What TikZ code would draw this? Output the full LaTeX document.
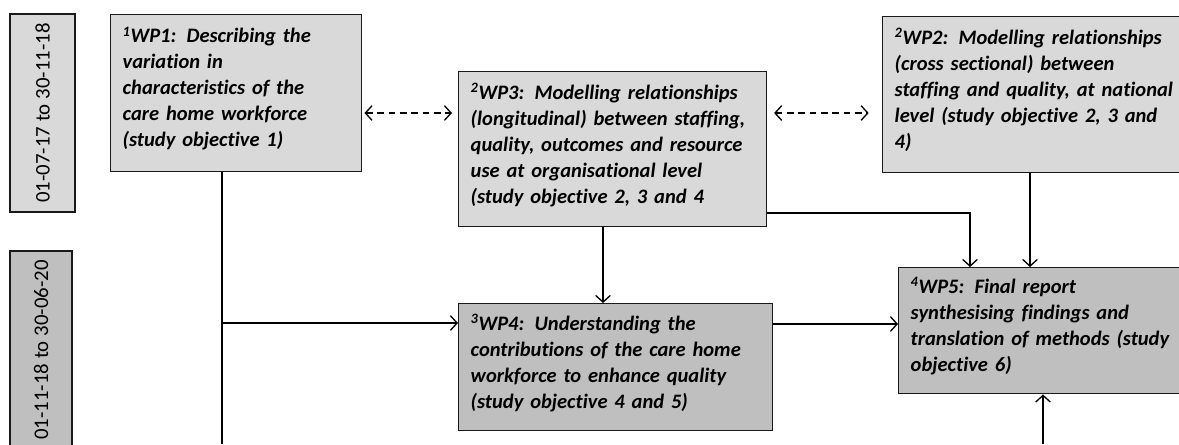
\documentclass[tikz,border=0pt]{standalone}
\usepackage{fontspec}
\setmainfont{Carlito}[Ligatures=CommonOff]
\usetikzlibrary{arrows.meta}
\definecolor{lightbox}{HTML}{D9D9D9}
\definecolor{darkbox}{HTML}{BFBFBF}
\definecolor{boxline}{HTML}{1A1A1A}

\begin{document}
\begin{tikzpicture}[x=0.75pt, y=-0.75pt,
	wp/.style={draw=boxline, line width=1.1pt, anchor=north west, align=left, inner xsep=9pt,
		font=\fontsize{15.4}{19.5}\selectfont\bfseries\itshape,
		execute at end node={\endgraf\vspace{7pt}}},
	period/.style={draw=boxline, line width=1.1pt, rotate=90, inner sep=0pt,
		font=\fontsize{15.6}{19.5}\selectfont},
	link/.style={line width=1pt, -{Straight Barb[length=5pt, width=11pt]}},
	pair/.style={line width=1pt, dash pattern=on 5pt off 3.5pt,
		{Straight Barb[length=5pt, width=11pt]}-{Straight Barb[length=5pt, width=11pt]}}]
		\useasboundingbox (0,0) rectangle (1179,444);
		\clip (0,0) rectangle (1179,444);
		
		% time periods
		\node[period, fill=lightbox, minimum width=148.5pt, minimum height=48.75pt] (p1) at (42.5,113) {01-07-17 to 30-11-18};
		\node[period, fill=darkbox, minimum width=148.5pt, minimum height=46.5pt] (p2) at (41,350) {01-11-18 to 30-06-20};
		
		% work packages
		\node[wp, fill=lightbox, minimum width=188.25pt, minimum height=117.75pt, text width=170.25pt] (wp1) at (110,14) {\textsuperscript{1}WP1: Describing the\\ variation in\\ characteristics of the\\ care home workforce\\ (study objective 1)};
		\node[wp, fill=lightbox, minimum width=231pt, minimum height=116.25pt, text width=213pt] (wp3) at (458,71) {\textsuperscript{2}WP3: Modelling relationships\\ (longitudinal) between staffing,\\ quality, outcomes and resource\\ use at organisational level\\ (study objective 2, 3 and 4};
		\node[wp, fill=lightbox, minimum width=234.75pt, minimum height=117pt, text width=216.75pt] (wp2) at (882,16) {\textsuperscript{2}WP2: Modelling relationships\\ (cross sectional) between\\ staffing and quality, at national\\ level (study objective 2, 3 and\\ 4)};
		\node[wp, fill=darkbox, minimum width=235.5pt, minimum height=95.25pt, text width=217.5pt] (wp4) at (458,303) {\textsuperscript{3}WP4: Understanding the\\ contributions of the care home\\ workforce to enhance quality\\ (study objective 4 and 5)};
		\node[wp, fill=darkbox, minimum width=222.75pt, minimum height=94.5pt, text width=204.75pt] (wp5) at (898,267) {\textsuperscript{4}WP5: Final report\\ synthesising findings and\\ translation of methods (study\\ objective 6)};
		
		\coordinate (trunk) at (222,444);
		\coordinate (fork) at (222,323);
		\coordinate (mid) at (603,0);
		\coordinate (turn) at (970,213);
		\coordinate (drop) at (1030,0);
		\coordinate (feed) at (0,324);
		\coordinate (rise) at (1043,444);
		\coordinate (dash) at (0,113);
		
		\draw[line width=1pt] (trunk |- wp1.south) -- (trunk);
		\draw[link] (fork) -- (fork -| wp4.west);
		\draw[link] (mid |- wp3.south) -- (mid |- wp4.north);
		\draw[link] (turn -| wp3.east) -- (turn) -- (turn |- wp5.north);
		\draw[link] (drop |- wp2.south) -- (drop |- wp5.north);
		\draw[link] (feed -| wp4.east) -- (feed -| wp5.west);
		\draw[link] (rise) -- (rise |- wp5.south);
		
		\draw[pair, shorten <=1.5pt, shorten >=4.5pt] (dash -| wp1.east) -- (dash -| wp3.west);
		\draw[pair, shorten <=5pt, shorten >=10pt] (dash -| wp3.east) -- (dash -| wp2.west);
		\end{tikzpicture}
\end{document}
